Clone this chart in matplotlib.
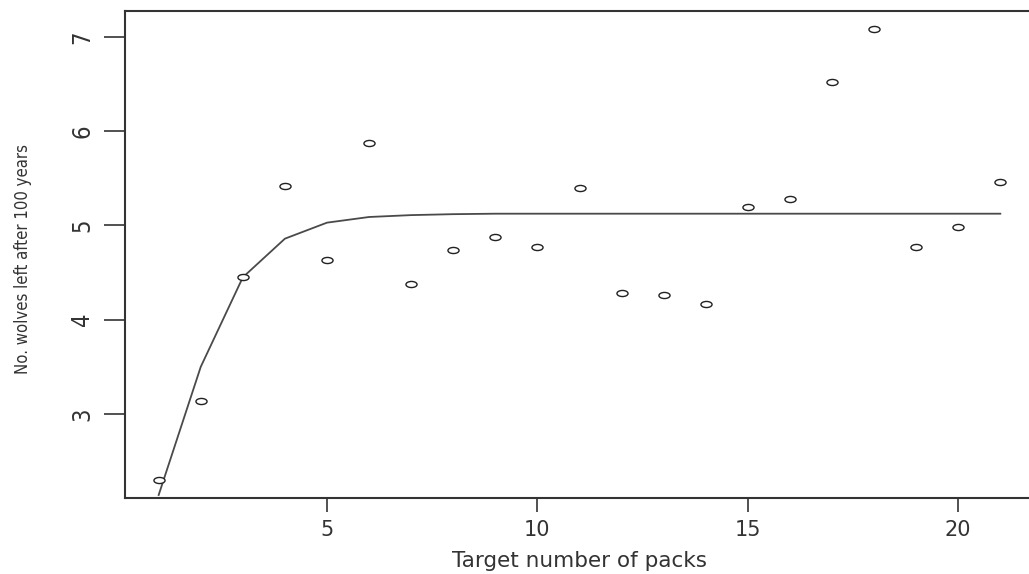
import matplotlib.pyplot as plt
from matplotlib.path import Path
from matplotlib.transforms import Affine2D
from matplotlib import font_manager
from matplotlib.font_manager import FontProperties

# target number of packs vs wolves left after 100 years
packs = list(range(1, 22))
wolves = [2.30, 3.14, 4.45, 5.42, 4.63, 5.88, 4.38, 4.74, 4.88, 4.77, 5.40,
          4.28, 4.26, 4.17, 5.20, 5.28, 6.52, 7.08, 4.77, 4.98, 5.46]

# fitted curve
fit_x = list(range(1, 22))
fit_y = [2.14, 3.50, 4.45, 4.86, 5.03, 5.09, 5.11, 5.12, 5.125, 5.125, 5.125,
         5.125, 5.125, 5.125, 5.125, 5.125, 5.125, 5.125, 5.125, 5.125, 5.125]


# pick a regular narrow sans file for the rotated text
def find_narrow():
    best, best_rank = None, 99
    for f in font_manager.fontManager.ttflist:
        fn = f.fname.lower()
        if not ('narrow' in fn or 'condensed' in fn):
            continue
        if 'bold' in fn or 'italic' in fn or 'oblique' in fn:
            continue
        if f.weight not in (400, 'normal', 'regular'):
            continue
        rank = 0 if 'liberationsansnarrow' in fn.replace('-', '') else 1 if 'dejavu' in fn else 2
        if rank < best_rank:
            best, best_rank = f.fname, rank
    return best


narrow_file = find_narrow()


def narrow_font(size):
    if narrow_file:
        return FontProperties(fname=narrow_file, size=size)
    return FontProperties(family='Liberation Sans', size=size * 0.85)


# squashed circle marker (R pch=1 after stretching)
ring = Affine2D().scale(1, 0.55).transform_path(Path.unit_circle())

fig = plt.figure(figsize=(10.29, 5.74), dpi=100)
ax = fig.add_axes([125 / 1029, 1 - 498 / 574, 909 / 1029, 487 / 574])

ax.plot(fit_x, fit_y, color='#4a4a4a', lw=1.3)
ax.plot(packs, wolves, ls='none', marker=ring, ms=8, mfc='white',
        mec='#222222', mew=1.0)

ax.set_xlim(0.2, 21.8)
ax.set_ylim(2.108, 7.276)

ax.set_xticks([5, 10, 15, 20])
ax.set_yticks([3, 4, 5, 6, 7])
ax.tick_params(axis='x', length=10, width=1.2, color='#333333', pad=6,
               labelsize=15, labelcolor='#333333')
ax.tick_params(axis='y', length=15, width=1.2, color='#333333', pad=7,
               labelcolor='#333333', labelrotation=90)
for lab in ax.get_yticklabels():
    lab.set_fontproperties(narrow_font(17))
    lab.set_va('center')
for lab in ax.get_xticklabels():
    lab.set_family('DejaVu Sans')

for s in ax.spines.values():
    s.set_color('#333333')
    s.set_linewidth(1.5)

fig.text(580 / 1029, 1 - 561 / 574, 'Target number of packs', ha='center',
         va='center', fontsize=15.5, color='#333333', family='DejaVu Sans')
fig.text(23 / 1029, 1 - 259 / 574, 'No. wolves left after 100 years',
         ha='center', va='center', rotation=90, color='#333333',
         fontproperties=narrow_font(12))

fig.savefig('out.png', dpi=100)
